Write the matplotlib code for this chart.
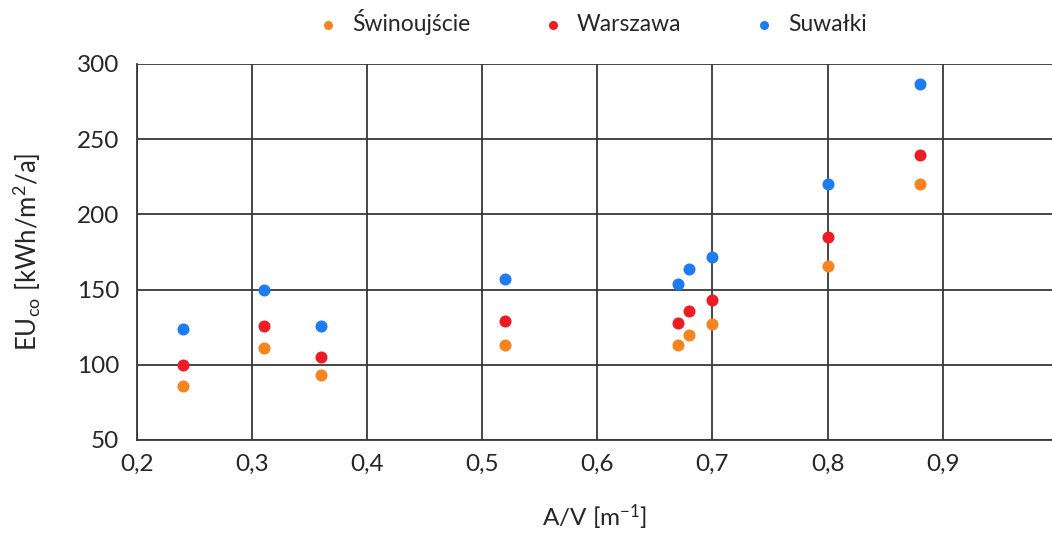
import matplotlib
matplotlib.use("Agg")
import matplotlib.pyplot as plt

av = [0.24, 0.31, 0.36, 0.52, 0.67, 0.68, 0.70, 0.80, 0.88]
swinoujscie = [86, 111, 93, 113, 113, 120, 127, 166, 220]
warszawa = [100, 125.5, 105.5, 129, 127.5, 136, 143, 185, 239.5]
suwalki = [124, 150, 126, 157, 154, 163.5, 172, 220.5, 287]
series_names = ["Świnoujście", "Warszawa", "Suwałki"]
colors = ["#F7841F", "#ED1C24", "#1E7BF2"]
xticks = [0.2, 0.3, 0.4, 0.5, 0.6, 0.7, 0.8, 0.9]
xtick_labels = ["0,2", "0,3", "0,4", "0,5", "0,6", "0,7", "0,8", "0,9"]
yticks = [50, 100, 150, 200, 250, 300]

plt.rcParams['font.family'] = ['Lato', 'DejaVu Sans']
plt.rcParams['mathtext.default'] = 'regular'

fig = plt.figure(figsize=(10.52, 5.33), dpi=100)
ax = fig.add_axes([137/1052, 93/533, 1 - 137/1052, 376/533])

gc = "#383838"
tc = "#262626"
for name, vals, c in zip(series_names, [swinoujscie, warszawa, suwalki], colors):
    ax.scatter(av, vals, s=75, color=c, label=name, zorder=3, linewidths=0)

ax.set_xlim(0.2, 0.995)
ax.set_ylim(50, 300)
ax.set_xticks(xticks)
ax.set_xticklabels(xtick_labels)
ax.set_yticks(yticks)
ax.grid(True, color=gc, linewidth=1.3, zorder=0)
ax.set_axisbelow(True)
for s in ["top", "right"]:
    ax.spines[s].set_visible(False)
for s in ["left", "bottom"]:
    ax.spines[s].set_color(gc)
    ax.spines[s].set_linewidth(1.3)
ax.tick_params(axis="y", length=0, labelsize=17.5, colors=tc, pad=13)
ax.tick_params(axis="x", length=0, labelsize=17.5, colors=tc, pad=10)
ax.set_xlabel("A/V [m$^{-1}$]", fontsize=17.5, color=tc, labelpad=20)
ax.set_ylabel("EU$_{co}$ [kWh/m$^2$/a]", fontsize=18.5, color=tc, labelpad=24)

leg = fig.legend(loc="center", bbox_to_anchor=(586/1052, 1 - 22/533), ncol=3, frameon=False,
                 fontsize=16.5, handletextpad=0.05, columnspacing=2.6, markerscale=0.75)
for t in leg.get_texts():
    t.set_color(tc)

fig.savefig("out.png", dpi=100)
